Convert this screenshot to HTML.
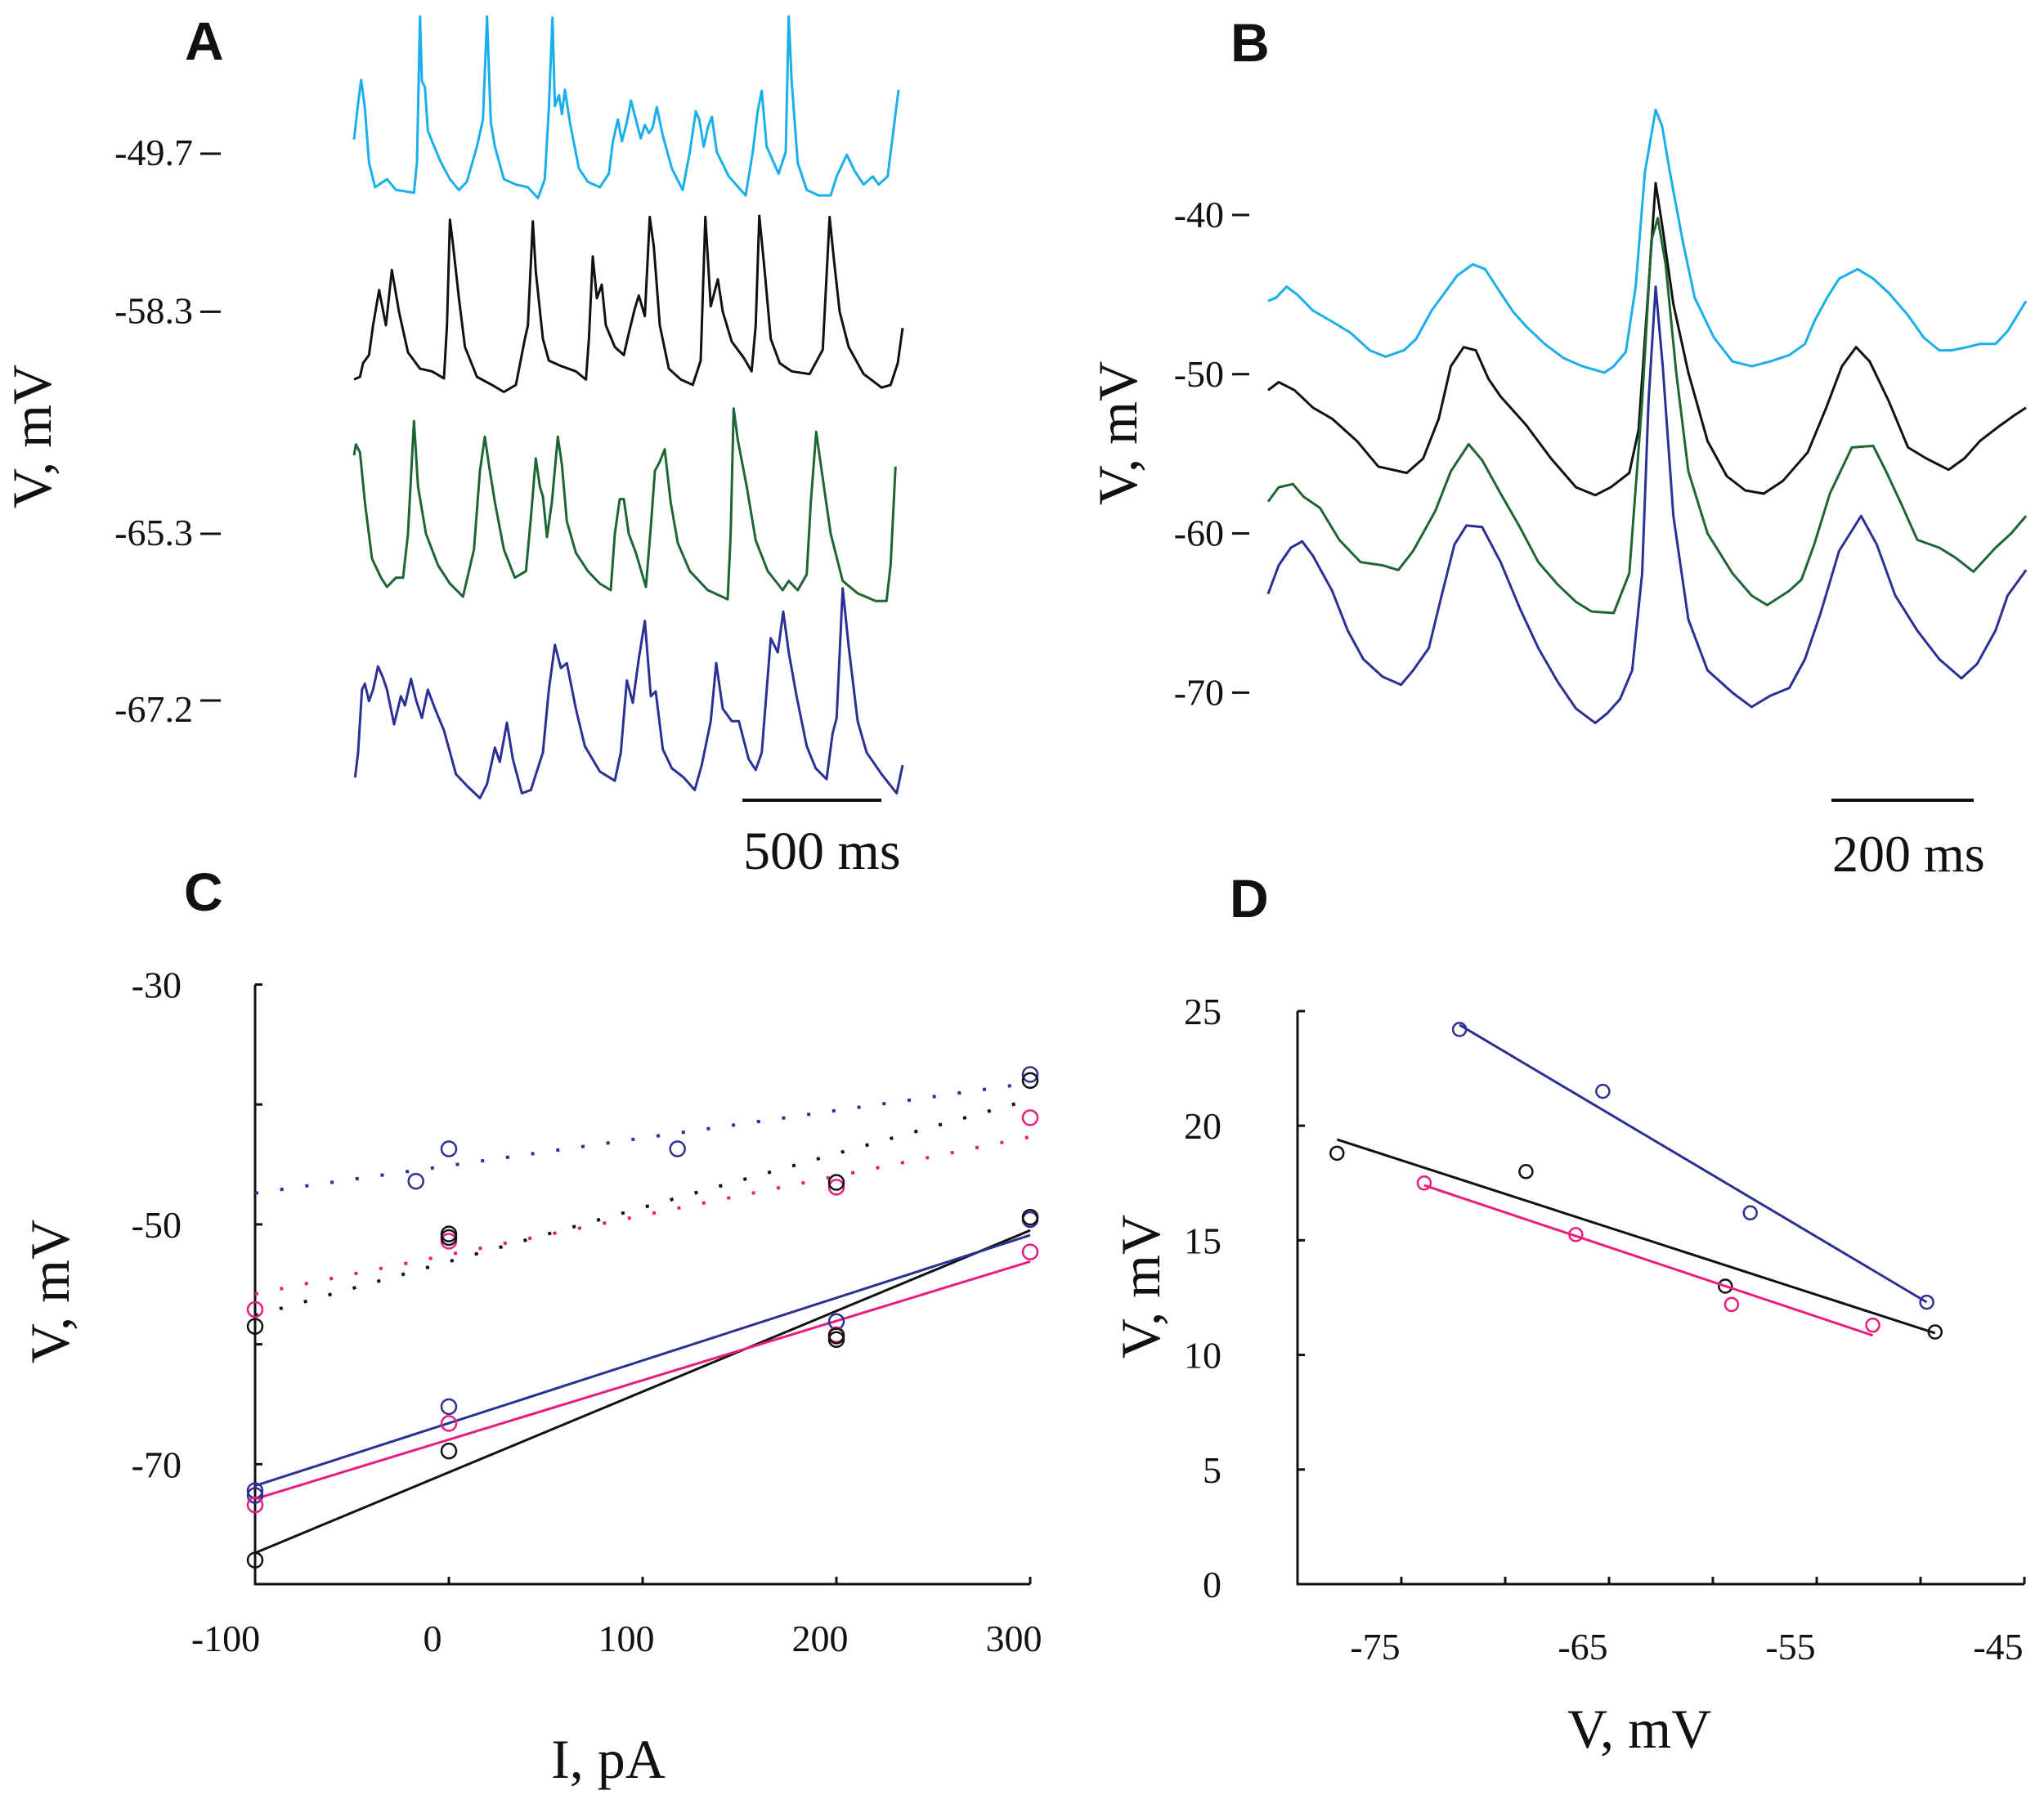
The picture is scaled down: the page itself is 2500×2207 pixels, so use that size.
<!DOCTYPE html>
<html><head><meta charset="utf-8"><style>
html,body{margin:0;padding:0;background:#fff;}
svg{display:block;}
text{font-family:"Liberation Serif",serif;fill:#111;}
.pl{font-family:"Liberation Sans",sans-serif;font-weight:bold;font-size:66px;}
.tk{font-size:46px;}
.ax{font-size:68px;}
</style></head><body>
<svg id="fig" width="2500" height="2207" viewBox="0 0 2500 2207" xmlns="http://www.w3.org/2000/svg">
<text class="pl" x="226" y="73">A</text>
<text class="pl" x="1505" y="75">B</text>
<text class="pl" x="225" y="1114">C</text>
<text class="pl" x="1504" y="1122">D</text>
<text class="ax" transform="translate(62,534) rotate(-90)" text-anchor="middle">V, mV</text>
<text class="ax" transform="translate(1390,530) rotate(-90)" text-anchor="middle">V, mV</text>
<text class="ax" transform="translate(84,1580) rotate(-90)" text-anchor="middle">V, mV</text>
<text class="ax" transform="translate(1418,1574) rotate(-90)" text-anchor="middle">V, mV</text>
<text class="ax" x="744" y="2175" text-anchor="middle">I, pA</text>
<text class="ax" x="2005" y="2138" text-anchor="middle">V, mV</text>
<line x1="908" y1="979" x2="1078" y2="979" stroke="#111" stroke-width="4"/>
<text x="909" y="1063" style="font-size:66px">500 ms</text>
<line x1="2240" y1="979" x2="2414" y2="979" stroke="#111" stroke-width="4"/>
<text x="2241" y="1066" style="font-size:64px">200 ms</text>
</svg>
<script>
// ===== Panel A data (time ms, voltage mV) =====
const aLabels = [-49.7, -58.3, -65.3, -67.2];
const aCyanT = [0,15,26,40,55,77,121,154,220,231,242,249,260,271,286,319,352,385,414,451,473,488,502,517,550,594,638,675,700,715,728,737,752,763,774,792,825,858,902,935,950,968,983,1001,1016,1034,1052,1067,1082,1096,1111,1133,1166,1206,1232,1254,1267,1283,1298,1313,1331,1375,1437,1463,1481,1496,1514,1558,1584,1595,1606,1628,1661,1705,1749,1771,1808,1837,1870,1903,1925,1958,1998];
const aCyanV = [-47.1,-40.4,-36.1,-41.3,-51.3,-55.9,-54.4,-56.4,-56.9,-51.3,-24.4,-36.3,-37.4,-45.4,-47.4,-51.3,-54.4,-56.4,-54.9,-48.4,-43.4,-24.4,-43.9,-48.4,-54.4,-55.4,-55.9,-57.9,-54.4,-41.4,-24.6,-40.9,-38.9,-42.4,-37.9,-43.9,-52.4,-54.9,-55.9,-53.4,-47.4,-43.4,-47.4,-43.9,-39.9,-43.4,-46.9,-44.4,-45.9,-44.9,-41.1,-46.4,-52.4,-56.4,-49.4,-41.9,-43.4,-48.4,-44.9,-42.9,-49.4,-53.9,-57.4,-49.4,-41.9,-38.1,-48.4,-53.4,-49.4,-24.4,-36.4,-51.4,-56.4,-57.4,-57.4,-53.9,-49.9,-52.9,-55.4,-53.9,-55.4,-53.9,-37.9];
const aBlackT = [0,22,33,55,70,92,117,139,165,198,242,286,330,341,352,363,385,407,451,506,550,594,627,638,656,667,693,715,759,814,851,862,876,891,909,924,957,990,1008,1030,1045,1067,1085,1100,1122,1155,1199,1243,1272,1289,1309,1335,1353,1386,1430,1459,1474,1487,1507,1529,1562,1606,1672,1720,1745,1760,1782,1815,1870,1936,1969,1995,2013];
const aBlackV = [-70.8,-70.3,-67.8,-66.3,-60.8,-54.3,-60.8,-50.6,-58.3,-65.8,-68.8,-69.3,-70.6,-60.8,-41.3,-45.8,-55.8,-64.8,-70.3,-71.8,-73.1,-71.8,-63.3,-60.8,-41.6,-50.8,-63.3,-67.3,-68.3,-69.3,-70.8,-63.3,-48.1,-55.8,-53.3,-60.8,-64.8,-66.3,-62.3,-57.8,-55.3,-59.1,-40.8,-46.3,-60.8,-68.8,-70.8,-71.8,-67.3,-40.8,-57.3,-52.3,-58.3,-63.8,-66.8,-69.3,-60.8,-40.6,-50.8,-63.3,-67.8,-69.3,-69.8,-65.3,-40.8,-48.3,-58.3,-64.8,-69.8,-72.3,-71.8,-67.8,-61.3];
const aGreenT = [0,7,22,40,66,99,121,154,180,198,220,235,264,308,352,400,440,462,480,495,517,550,590,631,649,667,682,693,708,726,748,763,781,814,858,902,942,957,975,990,1008,1034,1071,1089,1104,1122,1140,1162,1188,1232,1298,1371,1382,1393,1408,1441,1474,1518,1573,1595,1628,1661,1676,1696,1716,1749,1793,1848,1914,1954,1969,1987];
const aGreenV = [-50.8,-48.8,-50.3,-59.5,-69.9,-73.4,-75.1,-73.4,-73.4,-65.3,-44.5,-56.6,-65.3,-71.1,-74.5,-76.9,-68.2,-53.7,-47.4,-52.6,-59.5,-68.2,-73.4,-72.2,-62.4,-51.4,-56.6,-58.4,-65.9,-59.5,-47.4,-52.6,-63.0,-68.8,-72.2,-74.5,-75.7,-65.3,-58.9,-58.9,-65.3,-68.8,-75.1,-64.1,-53.7,-52.0,-49.7,-59.5,-67.0,-72.2,-75.7,-77.4,-65.3,-42.2,-47.9,-56.6,-66.5,-72.2,-75.7,-74.0,-75.7,-72.8,-59.5,-46.5,-53.7,-65.3,-74.0,-76.3,-77.7,-77.7,-71.1,-52.9];
const aBlueT = [4,15,29,40,55,70,88,106,121,147,172,187,209,227,249,271,297,330,374,418,462,488,517,535,561,583,616,649,693,715,737,759,781,814,847,902,957,979,1001,1023,1045,1067,1089,1107,1133,1166,1210,1250,1276,1309,1329,1353,1386,1412,1448,1474,1496,1529,1555,1575,1595,1624,1661,1694,1734,1756,1771,1793,1815,1848,1881,1936,1991,2013];
const aBlueV = [-79.6,-75.0,-63.4,-62.3,-65.5,-63.4,-59.1,-61.1,-63.4,-69.8,-64.6,-66.3,-61.4,-65.2,-68.6,-63.4,-66.9,-70.9,-79.0,-81.3,-83.4,-80.8,-74.1,-76.7,-69.5,-76.2,-82.5,-81.9,-75.0,-63.4,-55.1,-59.4,-58.5,-66.9,-73.8,-78.5,-80.2,-75.0,-61.7,-65.8,-57.7,-50.7,-64.6,-63.7,-74.4,-77.9,-79.6,-81.9,-77.3,-69.2,-58.5,-66.9,-69.2,-69.2,-76.2,-78.2,-75.0,-53.9,-56.5,-49.0,-56.5,-64.6,-73.8,-77.9,-79.9,-71.5,-68.6,-44.7,-55.4,-69.2,-75.0,-79.0,-82.5,-77.3];

// ===== Panel B data =====
const bTicks = [-40, -50, -60, -70];
const bCyanT = [0,11,26,41,63,90,116,143,165,191,208,230,248,266,288,305,327,345,363,389,416,442,473,486,503,517,530,545,554,565,583,600,627,653,680,706,733,755,768,786,803,829,851,873,900,922,944,961,983,1001,1023,1040,1066];
const bCyanV = [-45.4,-45.2,-44.5,-45.0,-46.0,-46.7,-47.4,-48.5,-48.9,-48.5,-47.8,-46.0,-44.9,-43.8,-43.1,-43.4,-44.9,-46.1,-47.0,-48.1,-49.0,-49.5,-49.9,-49.5,-48.6,-44.5,-37.3,-33.4,-34.4,-37.3,-41.6,-45.2,-47.7,-49.2,-49.5,-49.2,-48.8,-48.1,-46.7,-45.2,-44.0,-43.4,-44.0,-44.9,-46.3,-47.7,-48.5,-48.5,-48.3,-48.1,-48.1,-47.3,-45.4];
const bBlackT = [0,15,37,63,90,125,155,195,218,240,257,275,292,310,327,363,398,433,460,482,508,521,535,545,555,570,591,618,645,671,697,724,759,785,807,827,846,873,900,926,957,979,1001,1027,1049,1066];
const bBlackV = [-51.0,-50.5,-51.0,-52.1,-52.8,-54.2,-55.8,-56.2,-55.3,-52.8,-49.5,-48.3,-48.5,-50.3,-51.4,-53.2,-55.3,-57.1,-57.6,-57.1,-56.2,-53.5,-44.5,-38.0,-40.9,-45.6,-49.9,-54.2,-56.4,-57.3,-57.5,-56.7,-54.9,-52.1,-49.5,-48.3,-49.2,-51.7,-54.6,-55.3,-56.0,-55.3,-54.2,-53.3,-52.6,-52.1];
const bGreenT = [0,15,35,50,73,100,130,161,183,204,235,257,282,301,327,354,380,407,433,455,486,508,526,539,548,559,574,591,618,653,680,702,733,750,768,790,821,851,869,891,913,944,966,992,1023,1045,1066];
const bGreenV = [-58.0,-57.1,-56.9,-57.7,-58.4,-60.4,-61.8,-62.0,-62.3,-61.1,-58.6,-56.1,-54.4,-55.4,-57.5,-59.6,-61.8,-63.2,-64.3,-64.9,-65.0,-62.5,-51.7,-41.6,-40.2,-43.1,-49.9,-56.1,-60.0,-62.5,-63.9,-64.5,-63.6,-62.9,-60.7,-57.5,-54.6,-54.5,-56.1,-58.2,-60.4,-60.9,-61.5,-62.4,-60.9,-60.0,-58.9];
const bBlueT = [0,15,32,48,63,90,112,134,161,187,204,226,244,262,279,301,327,354,380,407,433,460,477,495,512,526,535,545,555,570,591,618,653,680,706,733,755,777,803,834,856,882,913,944,975,997,1023,1040,1066];
const bBlueV = [-63.8,-62.0,-60.9,-60.5,-61.4,-63.6,-66.1,-67.9,-69.0,-69.5,-68.6,-67.2,-63.9,-60.7,-59.5,-59.6,-61.8,-64.7,-67.2,-69.3,-71.0,-71.9,-71.3,-70.4,-68.6,-62.5,-51.7,-44.5,-49.5,-58.9,-65.4,-68.6,-70.0,-70.9,-70.2,-69.7,-67.9,-65.0,-61.1,-58.9,-60.7,-63.9,-66.1,-67.9,-69.1,-68.2,-66.1,-63.9,-62.3];

// ===== Panel C data (I pA, V mV) =====
const cXTicks = [-100, 0, 100, 200, 300];
const cYTicks = [-30, -50, -70];
const cBlueSolidX = [-100,-100,0,200,300];
const cBlueSolidY = [-72.2,-72.6,-65.2,-58.1,-49.6];
const cBlackSolidX = [-100,0,200,200,300];
const cBlackSolidY = [-78.0,-68.9,-59.3,-59.6,-49.4];
const cPinkSolidX = [-100,0,200,300];
const cPinkSolidY = [-73.4,-66.6,-59.2,-52.3];
const cBlueDotX = [-17,0,118,300];
const cBlueDotY = [-46.4,-43.7,-43.7,-37.5];
const cBlackDotX = [-100,0,0,200,300];
const cBlackDotY = [-58.5,-50.8,-51.1,-46.5,-38.0];
const cPinkDotX = [-100,0,200,300];
const cPinkDotY = [-57.1,-51.4,-46.9,-41.1];
// fitted lines: value at I=-100 and I=300
const cBlueSolidFit = [-71.8, -50.9];
const cPinkSolidFit = [-72.9, -53.1];
const cBlackSolidFit = [-77.4, -50.5];
const cBlueDotFit = [-47.4, -38.2];
const cBlackDotFit = [-57.6, -39.6];
const cPinkDotFit = [-55.8, -42.7];

// ===== Panel D data =====
const dXTicks = [-75, -65, -55, -45];
const dYTicks = [0, 5, 10, 15, 20, 25];
const dBlueX = [-72.2,-65.3,-58.2,-49.7];
const dBlueY = [24.2,21.5,16.2,12.3];
const dBlackX = [-78.1,-69.0,-59.4,-49.3];
const dBlackY = [18.8,18.0,13.0,11.0];
const dPinkX = [-73.9,-66.6,-59.1,-52.3];
const dPinkY = [17.5,15.25,12.2,11.3];
const dBlueFitX = [-72.2,-49.7];
const dBlueFitY = [24.4,12.3];
const dBlackFitX = [-78.1,-49.3];
const dBlackFitY = [19.4,10.95];
const dPinkFitX = [-73.9,-52.3];
const dPinkFitY = [17.4,10.85];

const COL = {cyan:'#1aaeea', black:'#111111', green:'#1d6634', blue:'#2b3094', pink:'#e81c80'};
const svg = document.getElementById('fig');
const NS = 'http://www.w3.org/2000/svg';
function mk(tag, attrs){const e=document.createElementNS(NS,tag);for(const k in attrs)e.setAttribute(k,attrs[k]);svg.appendChild(e);return e;}
function poly(ts, vs, fx, fy){let d='';for(let i=0;i<ts.length;i++){d+=(i?'L':'M')+fx(ts[i]).toFixed(1)+' '+fy(vs[i]).toFixed(1);}return d;}

// Panel A
const aLabelY = [188, 381.4, 653, 869];
const aX = t => 433 + t/3;
const aTraces = [[aCyanT,aCyanV,COL.cyan,'cyan'],[aBlackT,aBlackV,COL.black,'black'],[aGreenT,aGreenV,COL.green,'green'],[aBlueT,aBlueV,COL.blue,'blue']];
aTraces.forEach((tr,i)=>{
  const fy = v => aLabelY[i] - (v - aLabels[i])*6.63;
  const p = mk('path',{d:poly(tr[0],tr[1],aX,fy),fill:'none',stroke:tr[2],'stroke-width':3,'stroke-linejoin':'round'});
  
  
  const t = mk('text',{x:236,y:aLabelY[i]+14,'text-anchor':'end',class:'tk'});
  t.textContent = aLabels[i].toFixed(1);
  
  
  const l = mk('line',{x1:245,x2:270,y1:aLabelY[i]-(i==3?12:0),y2:aLabelY[i]-(i==3?12:0),stroke:'#111','stroke-width':3});
  
  
});

// Panel B
const bX = t => 1551 + t*0.8697;
const bY = v => 263 - (v + 40)*19.48;
[[bCyanT,bCyanV,COL.cyan,'cyan'],[bBlackT,bBlackV,COL.black,'black'],[bGreenT,bGreenV,COL.green,'green'],[bBlueT,bBlueV,COL.blue,'blue']].forEach(tr=>{
  const p = mk('path',{d:poly(tr[0],tr[1],bX,bY),fill:'none',stroke:tr[2],'stroke-width':3,'stroke-linejoin':'round'});
  
  
});
bTicks.forEach(v=>{
  const l = mk('line',{x1:1507,x2:1528,y1:bY(v),y2:bY(v),stroke:'#111','stroke-width':3});
  
  
  const t = mk('text',{x:1497,y:bY(v)+15,'text-anchor':'end',class:'tk'});
  t.textContent = String(v);
  
  
});

// Panel C
const cX = x => 312 + (x + 100)*2.37;
const cY = v => 1204.5 - (v + 30)*14.67;
let e = mk('path',{d:`M312 ${cY(-30)} L312 ${cY(-80)} L${cX(300)} ${cY(-80)}`,fill:'none',stroke:'#111','stroke-width':3});


[-30,-40,-50,-60,-70].forEach(v=>{
  const l = mk('line',{x1:312,x2:321,y1:cY(v),y2:cY(v),stroke:'#111','stroke-width':3});
  
  
});
cYTicks.forEach(v=>{
  const t = mk('text',{x:222,y:cY(v)+16,'text-anchor':'end',class:'tk'});
  t.textContent = String(v);
  
  
});
cXTicks.forEach((v,i)=>{
  const l = mk('line',{x1:cX(v),x2:cX(v),y1:cY(-80),y2:cY(-80)-9,stroke:'#111','stroke-width':3});
  
  
  const t = mk('text',{x:cX(v)-(i==0?36:20),y:2020,'text-anchor':'middle',class:'tk'});
  t.textContent = String(v);
  
  
});
function cLine(fit,color,dotted,name){
  const a={x1:cX(-100),y1:cY(fit[0]),x2:cX(300),y2:cY(fit[1]),stroke:color,'stroke-width':dotted?4:3};
  if(dotted)a['stroke-dasharray']='4 27';
  const l = mk('line',a);
  
  
}
function cPts(xs,ys,color,name){
  xs.forEach((x,i)=>{
    const c = mk('circle',{cx:cX(x),cy:cY(ys[i]),r:9,fill:'none',stroke:color,'stroke-width':2.5});
    
    
  });
}
cLine(cBlueDotFit,COL.blue,true,'panel-c-fit-blue-dotted');
cLine(cBlackDotFit,COL.black,true,'panel-c-fit-black-dotted');
cLine(cPinkDotFit,COL.pink,true,'panel-c-fit-pink-dotted');
cLine(cBlackSolidFit,COL.black,false,'panel-c-fit-black-solid');
cLine(cBlueSolidFit,COL.blue,false,'panel-c-fit-blue-solid');
cLine(cPinkSolidFit,COL.pink,false,'panel-c-fit-pink-solid');
cPts(cPinkDotX,cPinkDotY,COL.pink,'panel-c-point-pink-peak');
cPts(cBlueDotX,cBlueDotY,COL.blue,'panel-c-point-blue-peak');
cPts(cBlackDotX,cBlackDotY,COL.black,'panel-c-point-black-peak');
cPts(cBlueSolidX,cBlueSolidY,COL.blue,'panel-c-point-blue-trough');
cPts(cPinkSolidX,cPinkSolidY,COL.pink,'panel-c-point-pink-trough');
cPts(cBlackSolidX,cBlackSolidY,COL.black,'panel-c-point-black-trough');

// Panel D
const dX = x => 1587 + (x + 80)*25.4;
const dY = v => 1938 - v*28.04;
e = mk('path',{d:`M1587 ${dY(25)} L1587 ${dY(0)} L${dX(-45)} ${dY(0)}`,fill:'none',stroke:'#111','stroke-width':3});


dYTicks.forEach(v=>{
  if(v>0){
    const l = mk('line',{x1:1587,x2:1596,y1:dY(v),y2:dY(v),stroke:'#111','stroke-width':3});
    
    
  }
  const t = mk('text',{x:1494,y:dY(v)+16,'text-anchor':'end',class:'tk'});
  t.textContent = String(v);
  
  
});
[-75,-70,-65,-60,-55,-50,-45].forEach(v=>{
  const l = mk('line',{x1:dX(v),x2:dX(v),y1:dY(0),y2:dY(0)-9,stroke:'#111','stroke-width':3});
  
  
});
dXTicks.forEach(v=>{
  const t = mk('text',{x:dX(v)-32,y:2030,'text-anchor':'middle',class:'tk'});
  t.textContent = String(v);
  
  
});
function dSeries(xs,ys,fx,fyv,color,name){
  const l = mk('line',{x1:dX(fx[0]),y1:dY(fyv[0]),x2:dX(fx[1]),y2:dY(fyv[1]),stroke:color,'stroke-width':3});
  
  
  xs.forEach((x,i)=>{
    const c = mk('circle',{cx:dX(x),cy:dY(ys[i]),r:8,fill:'none',stroke:color,'stroke-width':2.5});
    
    
  });
}
dSeries(dBlueX,dBlueY,dBlueFitX,dBlueFitY,COL.blue,'blue');
dSeries(dBlackX,dBlackY,dBlackFitX,dBlackFitY,COL.black,'black');
dSeries(dPinkX,dPinkY,dPinkFitX,dPinkFitY,COL.pink,'pink');
</script>
</body></html>
